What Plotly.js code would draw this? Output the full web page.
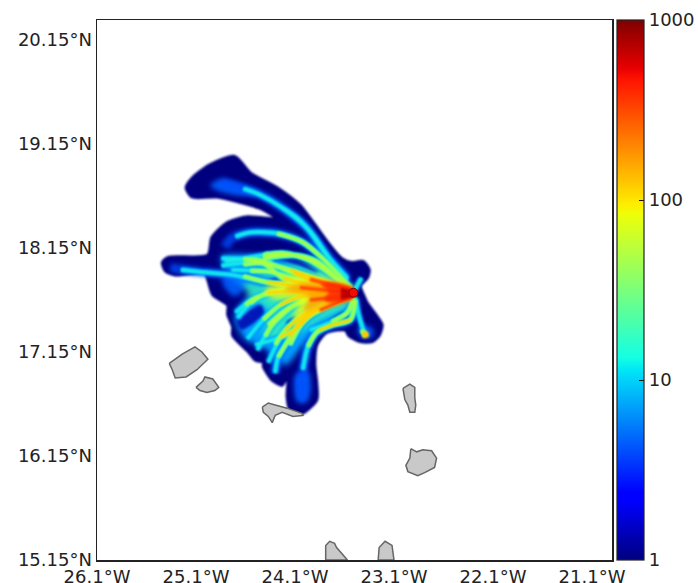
<!DOCTYPE html>
<html><head><meta charset="utf-8">
<script src="https://cdn.plot.ly/plotly-3.0.1.min.js"></script>
<style>html,body{margin:0;padding:0;background:#fff}</style></head>
<body><div id="chart" style="width:698px;height:583px"></div>
<script>
// axis labels
const lonTicks=[-26.1,-25.1,-24.1,-23.1,-22.1,-21.1];
const lonLabels=['26.1°W','25.1°W','24.1°W','23.1°W','22.1°W','21.1°W'];
const latTicks=[15.15,16.15,17.15,18.15,19.15,20.15];
const latLabels=['15.15°N','16.15°N','17.15°N','18.15°N','19.15°N','20.15°N'];
const scaleTicks=[0,1,2,3];
const scaleLabels=['1','10','100','1000'];
// islands
const islandLon=[-25.37,-25.24,-25.11,-25.04,-24.98,-25.03,-25.09,-25.20,-25.31,-25.34,-25.37,null,
 -25.10,-25.03,-25.01,-24.93,-24.87,-24.91,-24.99,-25.06,-25.10,null,
 -24.43,-24.37,-24.30,-24.18,-24.03,-24.02,-24.12,-24.23,-24.30,-24.33,-24.37,-24.42,-24.43,null,
 -23.01,-22.94,-22.89,-22.89,-22.88,-22.89,-22.94,-22.96,-22.99,-23.01,null,
 -22.93,-22.87,-22.81,-22.72,-22.67,-22.69,-22.79,-22.86,-22.96,-22.98,-22.94,-22.93,null,
 -23.79,-23.79,-23.75,-23.70,-23.68,-23.62,-23.57,-23.79,null,
 -23.26,-23.25,-23.19,-23.12,-23.10,-23.26];
const islandLat=[17.04,17.13,17.20,17.15,17.08,17.03,16.98,16.91,16.90,16.98,17.04,null,
 16.81,16.87,16.91,16.89,16.81,16.78,16.76,16.78,16.81,null,
 16.62,16.66,16.64,16.61,16.56,16.54,16.53,16.57,16.54,16.47,16.53,16.57,16.62,null,
 16.80,16.84,16.81,16.71,16.64,16.57,16.57,16.64,16.69,16.80,null,
 16.22,16.19,16.21,16.20,16.13,16.04,15.99,15.96,16.00,16.06,16.13,16.22,null,
 15.15,15.29,15.33,15.31,15.27,15.20,15.15,15.15,null,
 15.15,15.27,15.33,15.29,15.15,15.15];
// plume footprint (lowest contour)
const edgeLon=[-24.71,-24.55,-24.28,-24.05,-23.92,-23.75,-23.63,-23.53,-23.41,-23.35,-23.37,-23.44,-23.40,-23.37,-23.27,-23.22,-23.25,-23.32,-23.44,-23.56,-23.59,-23.78,-23.88,-23.90,-23.88,-23.88,-24.03,-24.15,-24.18,-24.17,-24.23,-24.33,-24.42,-24.42,-24.50,-24.57,-24.73,-24.73,-24.78,-24.78,-24.93,-24.98,-25.01,-25.31,-25.41,-25.44,-25.38,-24.98,-24.94,-24.79,-24.58,-24.28,-24.45,-24.66,-24.89,-25.14,-25.20,-25.14,-24.96,-24.71];
const edgeLat=[19.03,18.87,18.73,18.56,18.40,18.18,18.05,18.01,18.02,17.94,17.86,17.79,17.68,17.62,17.49,17.41,17.31,17.25,17.25,17.31,17.36,17.34,17.22,17.04,16.85,16.69,16.56,16.59,16.72,16.93,16.83,16.88,17.01,17.05,17.07,17.15,17.31,17.39,17.51,17.60,17.70,17.84,17.91,17.89,17.93,18.01,18.06,18.08,18.25,18.39,18.45,18.43,18.53,18.59,18.64,18.64,18.73,18.82,18.95,19.03];
// patches of about 2-4
const hazeLon=[-24.95,-24.84,-24.61,-24.46,-24.66,-24.86,-24.95,null,
 -24.83,-24.61,-24.40,-24.58,-24.71,-24.81,-24.83,null,
 -24.09,-23.97,-23.95,-23.99,-24.07,-24.10,-24.09,null,
 -23.46,-23.33,-23.32,-23.42,-23.46];
const hazeLat=[18.75,18.81,18.74,18.67,18.66,18.70,18.75,null,
 17.88,17.91,17.84,17.78,17.69,17.78,17.88,null,
 16.93,16.96,16.77,16.67,16.67,16.78,16.93,null,
 17.38,17.38,17.30,17.29,17.38];
// central fan, about 6-10
const fanLon=[-24.84,-24.40,-23.85,-23.54,-23.59,-23.85,-24.05,-24.20,-24.40,-24.60,-24.70,-24.60,-24.45,-24.70,-24.84];
const fanLat=[18.06,18.06,17.93,17.75,17.50,17.38,17.19,17.03,17.19,17.28,17.48,17.65,17.75,17.84,18.06];
// inner fan, about 15-30
const innerLon=[-23.54,-23.85,-24.20,-24.60,-24.55,-24.35,-24.42,-24.15,-23.85,-23.57,-23.54];
const innerLat=[17.77,17.97,17.98,17.82,17.67,17.55,17.30,17.30,17.46,17.60,17.77];
// low-value gaps between rays
const gapLon=[-24.68,-24.45,-24.42,-24.57,-24.64,-24.68,null,
 -24.35,-24.17,-24.12,-24.29,-24.35,null,
 -24.22,-24.05,-23.87,-24.00,-24.22,null,
 -23.75,-23.60,-23.58,-23.70,-23.75,null,
 -24.18,-24.10,-24.05,-24.13,-24.18];
const gapLat=[17.44,17.60,17.52,17.40,17.37,17.44,null,
 17.84,17.86,17.80,17.77,17.84,null,
 18.05,18.01,17.92,17.97,18.05,null,
 17.44,17.53,17.46,17.41,17.44,null,
 17.43,17.48,17.45,17.40,17.43];
// rays, faint far ends included
const faintLon=[-23.57,-23.78,-23.98,-24.22,-24.45,-24.69,-24.84,null,
 -23.54,-23.82,-24.03,-24.28,-24.55,-24.73,-24.81,null,
 -23.49,-23.54,-23.72,-23.88,-23.97,-24.02,-24.03,-24.03,null,
 -23.54,-23.82,-24.05,-24.15,-24.27,-24.30,null,
 -23.54,-24.05,-24.38,-24.73,-25.06,-25.36];
const faintLat=[17.86,18.08,18.34,18.53,18.66,18.74,18.77,null,
 17.77,18.05,18.21,18.29,18.30,18.25,18.16,null,
 17.65,17.46,17.41,17.34,17.20,16.95,16.80,16.70,null,
 17.68,17.60,17.44,17.29,17.10,16.95,null,
 17.72,17.78,17.82,17.89,17.92,17.96];
// rays, about 10
const coolLon=[-23.57,-23.78,-23.98,-24.22,-24.45,-24.62,null,
 -23.57,-23.75,-23.92,-24.08,-24.22,null,
 -23.54,-23.82,-24.03,-24.28,-24.55,-24.70,null,
 -23.54,-23.95,-24.22,-24.42,-24.73,null,
 -23.54,-23.88,-24.12,-24.45,-24.84,null,
 -23.85,-24.22,-24.42,-24.84,null,
 -23.54,-24.05,-24.38,-24.73,-25.06,-25.25,null,
 -24.39,-24.34,null,
 -23.60,-23.88,-24.10,-24.42,null,
 -23.57,-24.12,-24.38,-24.55,-24.68,null,
 -23.57,-24.05,-24.25,-24.42,-24.58,null,
 -23.54,-23.92,-24.08,-24.25,-24.50,null,
 -23.54,-23.82,-24.05,-24.15,-24.27,-24.30,null,
 -23.49,-23.54,-23.72,-23.88,-23.97,-24.02,null,
 -23.49,-23.46,-23.42,-23.39,null,
 -23.51,-23.57,-23.73,-23.95,null,
 -23.54,-24.00,-24.20,-24.37,null,
 -23.50,-23.43,null,
 -24.81,-24.56,-24.15,-23.75,-23.54,null,
 -24.74,-24.35,-24.05,-23.70,null,
 -24.70,-24.50,-24.20,null,
 -24.48,-24.33,-24.10,-23.75,null,
 -24.37,-24.20,-23.95,-23.59,null,
 -24.15,-24.00,-23.75];
const coolLat=[17.86,18.08,18.34,18.53,18.66,18.72,null,
 17.84,18.05,18.28,18.44,18.53,null,
 17.77,18.05,18.21,18.29,18.30,18.26,null,
 17.75,18.03,18.10,18.08,18.03,null,
 17.73,17.82,17.91,18.03,18.05,null,
 17.77,17.86,18.00,17.98,null,
 17.72,17.78,17.82,17.89,17.92,17.94,null,
 18.11,18.00,null,
 17.79,18.02,18.08,18.05,null,
 17.70,17.73,17.72,17.62,17.48,null,
 17.70,17.68,17.60,17.46,17.28,null,
 17.68,17.52,17.38,17.29,17.22,null,
 17.68,17.60,17.44,17.29,17.10,16.95,null,
 17.65,17.46,17.41,17.34,17.20,16.98,null,
 17.67,17.52,17.39,17.31,null,
 17.67,17.53,17.44,17.36,null,
 17.70,17.65,17.55,17.41,null,
 17.74,17.86,null,
 18.02,18.04,17.94,17.81,17.74,null,
 17.94,17.92,17.84,17.77,null,
 17.53,17.67,17.75,null,
 17.17,17.41,17.60,17.70,null,
 17.05,17.36,17.55,17.67,null,
 17.22,17.46,17.60];
// rays, the stretch above about 30
const warmLon=[-23.54,-23.82,-24.03,-24.28,null,
 -23.54,-23.95,-24.22,-24.42,null,
 -23.54,-23.88,-24.12,-24.45,-24.62,null,
 -23.85,-24.22,-24.42,-24.62,null,
 -23.54,-24.05,-24.38,-24.62,null,
 -23.60,-23.88,-24.10,-24.42,null,
 -23.57,-24.12,-24.38,-24.55,null,
 -23.57,-24.05,-24.25,-24.42,null,
 -23.54,-23.92,-24.08,-24.25,null,
 -23.54,-23.82,-24.05,-24.15,-24.27,null,
 -23.49,-23.54,-23.72,-23.88,-23.97,null,
 -23.51,-23.57,-23.73,null,
 -23.54,-24.00,-24.20,-24.37,null,
 -23.43,-23.39,null,
 -24.56,-24.15,-23.75,-23.54,null,
 -24.55,-24.35,-24.05,-23.70,null,
 -24.60,-24.50,-24.20,null,
 -24.40,-24.33,-24.10,-23.75,null,
 -24.30,-24.20,-23.95,-23.59,null,
 -24.15,-24.00,-23.75];
const warmLat=[17.77,18.05,18.21,18.29,null,
 17.75,18.03,18.10,18.08,null,
 17.73,17.82,17.91,18.03,18.04,null,
 17.77,17.86,18.00,17.99,null,
 17.72,17.78,17.82,17.88,null,
 17.79,18.02,18.08,18.05,null,
 17.70,17.73,17.72,17.62,null,
 17.70,17.68,17.60,17.46,null,
 17.68,17.52,17.38,17.29,null,
 17.68,17.60,17.44,17.29,17.10,null,
 17.65,17.46,17.41,17.34,17.20,null,
 17.67,17.53,17.44,null,
 17.70,17.65,17.55,17.41,null,
 17.36,17.31,null,
 18.04,17.94,17.81,17.74,null,
 17.93,17.92,17.84,17.77,null,
 17.60,17.67,17.75,null,
 17.30,17.41,17.60,17.70,null,
 17.22,17.36,17.55,17.67,null,
 17.22,17.46,17.60];
// rays, the stretch above about 100
const hotLon=[-23.54,-24.05,-24.38,null,-23.54,-23.88,-24.12,null,-23.85,-24.22,null,-23.57,-24.12,-24.38,null,
 -23.57,-24.05,-24.25,null,-23.54,-23.92,-24.08,-24.25,null,-23.54,-23.82,-24.05,-24.15,null,-23.54,-23.72,-23.86,null,
 -24.15,-23.75,-23.54,null,-24.20,-23.95,-23.59];
const hotLat=[17.72,17.78,17.82,null,17.73,17.82,17.91,null,17.77,17.86,null,17.70,17.73,17.72,null,
 17.70,17.68,17.60,null,17.68,17.52,17.38,17.29,null,17.68,17.60,17.44,17.29,null,17.46,17.41,17.36,null,
 17.94,17.81,17.74,null,17.36,17.55,17.67];
// streaks above about 300
const fireLon=[-23.54,-24.05,null,-23.54,-23.95,null,-23.54,-23.85,null,-23.54,-23.95];
const fireLat=[17.72,17.77,null,17.69,17.65,null,17.68,17.55,null,17.75,17.85];
// solid hot zones: about 100, 200, 500
const yellowLon=[-23.51,-23.85,-24.15,-24.40,-24.33,-24.05,-24.12,-23.85,-23.54,-23.51];
const yellowLat=[17.75,17.87,17.85,17.75,17.67,17.65,17.46,17.55,17.66,17.75];
const orangeLon=[-23.52,-23.80,-24.05,-24.20,-23.95,-24.00,-23.80,-23.54,-23.52];
const orangeLat=[17.76,17.82,17.80,17.75,17.69,17.55,17.62,17.67,17.76];
const redLon=[-23.52,-23.70,-23.83,-23.75,-23.80,-23.70,-23.52,-23.52];
const redLat=[17.76,17.81,17.80,17.73,17.65,17.63,17.67,17.76];
const coreLon=[-23.52,-23.63,-23.63,-23.52,-23.52];
const coreLat=[17.74,17.76,17.66,17.68,17.74];
const blobLon=[-23.41,-23.37,-23.36,-23.41,-23.41];
const blobLat=[17.34,17.34,17.30,17.29,17.34];
// source
const sourceLon=[-23.51];
const sourceLat=[17.72];
const sourceLevel=[2.7];

const jet=[[0,'#00007f'],[0.11,'#0000ff'],[0.125,'#0000ff'],[0.35,'#00e4f8'],[0.375,'#14ffe2'],[0.64,'#eeff08'],[0.66,'#ffec00'],[0.89,'#ff1300'],[0.91,'#e80000'],[1,'#7f0000']];
const area=(x,y,c,o=1,w=1.5,s='linear')=>({type:'scatter',mode:'lines',x,y,fill:'toself',fillcolor:c,opacity:o,line:{color:c,width:w,shape:s,smoothing:0.7},hoverinfo:'skip',showlegend:false});
const ray=(x,y,c,w,o=1)=>({type:'scatter',mode:'lines',x,y,opacity:o,line:{color:c,width:w,shape:'spline',smoothing:0.8},connectgaps:false,hoverinfo:'skip',showlegend:false});
const plume=[
 [area(edgeLon,edgeLat,'#00007f',1,3,'spline'),0.8],
 [area(hazeLon,hazeLat,'#0060ff',0.9,1.5,'spline'),2.5],
 [area(fanLon,fanLat,'#00a0ff',1,1.5,'spline'),3],
 [area(innerLon,innerLat,'#30f0c0',0.85,1.5,'spline'),3],
 [area(gapLon,gapLat,'#0018b8',1,1.5,'spline'),1.5],
 [ray(faintLon,faintLat,'#0050ff',9,0.75),2],
 [ray(coolLon,coolLat,'#0090ff',6.5,0.75),1.5],
 [ray(coolLon,coolLat,'#00d0ff',4),1],
 [ray(coolLon,coolLat,'#20f0e0',2.2),0.8],
 [ray(warmLon,warmLat,'#50ffa0',4.5),1],
 [ray(warmLon,warmLat,'#b0ff40',2.6),0.8],
 [area(yellowLon,yellowLat,'#e8ff18',0.8,1.5,'spline'),2.5],
 [ray(hotLon,hotLat,'#ffd000',2.6),0.8],
 [area(orangeLon,orangeLat,'#ffa000',0.8,1.5,'spline'),2],
 [ray(fireLon,fireLat,'#ff4800',3.5),1],
 [area(redLon,redLat,'#ff2800',0.85,1.5,'spline'),1.5],
 [area(coreLon,coreLat,'#c00000'),1],
 [area(blobLon,blobLat,'#ffc800',1,1.5,'spline'),1.2]
];
const islands={type:'scatter',mode:'lines',x:islandLon,y:islandLat,fill:'toself',fillcolor:'#c9c9c9',line:{color:'#666',width:1.5},hoverinfo:'skip',showlegend:false};
const source={type:'scatter',mode:'markers',x:sourceLon,y:sourceLat,hoverinfo:'skip',showlegend:false,
 marker:{size:9,color:sourceLevel,cmin:0,cmax:3,colorscale:jet,line:{color:'#700',width:1},showscale:true,
  colorbar:{x:1.0097,xanchor:'left',xpad:0,y:0.5,yanchor:'middle',ypad:0,len:1,lenmode:'fraction',thickness:27,thicknessmode:'pixels',
   tickmode:'array',tickvals:scaleTicks,ticktext:scaleLabels,ticks:'inside',ticklen:5,tickcolor:'#111',outlinecolor:'#222',outlinewidth:1.2,
   tickfont:{family:'DejaVu Sans',size:18,color:'#222'}}}};
const axisStyle={showgrid:false,zeroline:false,ticks:'',showline:true,mirror:true,linecolor:'#222',linewidth:1.5,tickmode:'array',tickfont:{family:'DejaVu Sans',size:18,color:'#222'},fixedrange:true};
Plotly.newPlot('chart',[...plume.map(p=>p[0]),islands,source],{
 width:698,height:583,margin:{l:97,r:86,t:20,b:23,pad:0,autoexpand:false},paper_bgcolor:'#fff',plot_bgcolor:'#fff',showlegend:false,
 xaxis:{...axisStyle,range:[-26.1,-20.898],tickvals:lonTicks,ticktext:lonLabels},
 yaxis:{...axisStyle,range:[15.15,20.342],tickvals:latTicks,ticktext:latLabels}
},{displayModeBar:false,staticPlot:true}).then(()=>{
 const g=document.querySelectorAll('.scatterlayer .trace');
 plume.forEach((p,i)=>{ if(g[i]) g[i].style.filter='blur('+p[1]+'px)'; });
});
</script></body></html>
